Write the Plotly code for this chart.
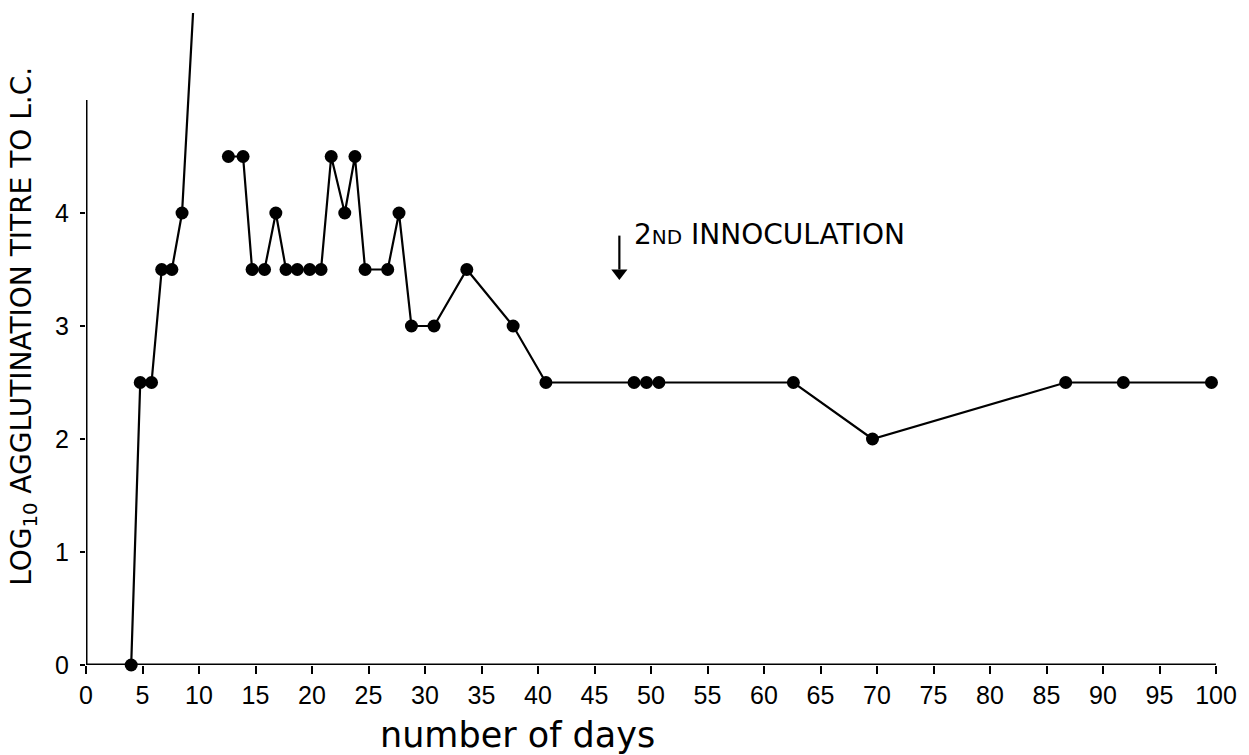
import plotly.graph_objects as go

# Agglutination titre (log10) against time after inoculation.
# None breaks the trace where the curve leaves the top of the scale.
days = [4.0, 4.8, 5.8, 6.7, 7.6, 8.5, 9.6, None,
        12.6, 13.9, 14.7, 15.8, 16.8, 17.7, 18.7, 19.8, 20.8, 21.7, 22.9, 23.8,
        24.7, 26.7, 27.7, 28.8, 30.8, 33.7, 37.8, 40.7, 48.5, 49.6, 50.7,
        62.6, 69.6, 86.7, 91.8, 99.6]
log_titre = [0.0, 2.5, 2.5, 3.5, 3.5, 4.0, 6.0, None,
             4.5, 4.5, 3.5, 3.5, 4.0, 3.5, 3.5, 3.5, 3.5, 4.5, 4.0, 4.5,
             3.5, 3.5, 4.0, 3.0, 3.0, 3.5, 3.0, 2.5, 2.5, 2.5, 2.5,
             2.5, 2.0, 2.5, 2.5, 2.5]

x_ticks = list(range(0, 101, 5))
y_ticks = [0, 1, 2, 3, 4]

second_dose_day = 47.2
note_text = "2<span style='font-size:20px'>ND</span> INNOCULATION"

fig = go.Figure()
fig.add_trace(go.Scatter(
    x=days, y=log_titre, mode="lines+markers",
    line=dict(color="black", width=2.2),
    marker=dict(color="black", size=13),
    connectgaps=False, cliponaxis=False, showlegend=False,
))

# Arrow marking the second inoculation: shaft plus head
fig.add_shape(type="line", xref="x", yref="y",
              x0=second_dose_day, x1=second_dose_day, y0=3.80, y1=3.50,
              line=dict(color="black", width=2.2))
fig.add_trace(go.Scatter(
    x=[second_dose_day], y=[3.47], mode="markers",
    marker=dict(symbol="triangle-down", size=14, color="black"),
    cliponaxis=False, showlegend=False, hoverinfo="skip",
))

# Axis lines: y axis stops at 5, x axis spans 0-100
fig.add_shape(type="line", xref="x", yref="y", x0=0, x1=0, y0=0, y1=5,
              line=dict(color="black", width=3))
fig.add_shape(type="line", xref="x", yref="y", x0=0, x1=100, y0=0, y1=0,
              line=dict(color="black", width=3))

fig.add_annotation(x=48.3, y=3.81, xref="x", yref="y", text=note_text,
                   showarrow=False, xanchor="left", yanchor="middle",
                   font=dict(family="DejaVu Sans", size=28, color="black"))

# Vertical axis title
fig.add_annotation(
    x=-0.055, y=0.52, xref="paper", yref="paper",
    text="LOG<sub>10</sub> AGGLUTINATION TITRE TO L.C.",
    textangle=-90, showarrow=False, xanchor="center", yanchor="middle",
    font=dict(family="DejaVu Sans", size=28, color="black"),
)

# Horizontal axis title
fig.add_annotation(
    x=38.2, y=-0.108, xref="x", yref="paper", text="number of days",
    showarrow=False, xanchor="center", yanchor="middle",
    font=dict(family="DejaVu Sans", size=35, color="black"),
)

fig.update_xaxes(
    range=[0, 100], tickvals=x_ticks, ticktext=[str(v) for v in x_ticks],
    showline=False, showgrid=False, zeroline=False,
    ticks="outside", ticklen=8, tickwidth=2, tickcolor="black",
    tickfont=dict(family="Liberation Sans", size=25, color="black"),
)
fig.update_yaxes(
    range=[0, 5.77], tickvals=y_ticks, ticktext=[str(v) for v in y_ticks],
    showline=False, showgrid=False, zeroline=False,
    ticks="outside", ticklen=5, tickwidth=2, tickcolor="black",
    ticklabelstandoff=6,
    tickfont=dict(family="Liberation Sans", size=25, color="black"),
)
fig.update_layout(
    width=1249, height=755,
    margin=dict(l=86, r=31, t=13, b=90),
    plot_bgcolor="white", paper_bgcolor="white",
)

fig.write_html("out.html")
